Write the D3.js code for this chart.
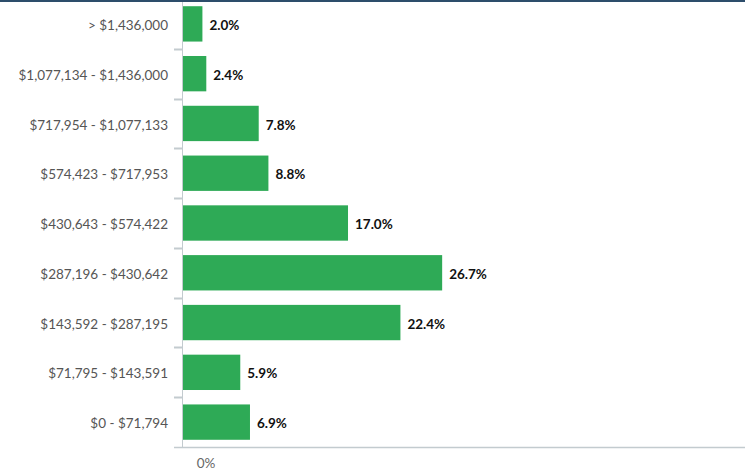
<!DOCTYPE html>
<html><head><meta charset="utf-8">
<script src="https://cdn.jsdelivr.net/npm/d3@7"></script>
<style>
html,body{margin:0;padding:0;background:#fff;}
svg{display:block;font-family:Lato,"Open Sans",sans-serif;}
</style></head>
<body>
<svg id="chart" width="745" height="474"></svg>
<script>
const categories = ["> $1,436,000","$1,077,134 - $1,436,000","$717,954 - $1,077,133","$574,423 - $717,953","$430,643 - $574,422","$287,196 - $430,642","$143,592 - $287,195","$71,795 - $143,591","$0 - $71,794"];
const values = [2.0,2.4,7.8,8.8,17.0,26.7,22.4,5.9,6.9];
const xTicks = [0];

(function(){
const svg = d3.select("#chart");
const W = 745, H = 474;
const mLeft = 183, mRight = 745, mTop = -1, mBottom = 447;

svg.append("rect").attr("x",0).attr("y",0).attr("width",W).attr("height",2).attr("fill","#2d4d6b");

const x = d3.scaleLinear().domain([0, 57.9]).range([mLeft, mRight]);
const y = d3.scaleBand().domain(categories).range([mTop, mBottom]).paddingInner(0.29).paddingOuter(0.145);

svg.append("g").selectAll("rect").data(values).join("rect")
  .attr("x", x(0))
  .attr("y", (d,i)=>y(categories[i]))
  .attr("width", d=>x(d)-x(0))
  .attr("height", y.bandwidth())
  .attr("fill", "#2eaa56");

svg.append("g").selectAll("text").data(values).join("text")
  .attr("x", d=>x(d)+7)
  .attr("y", (d,i)=>y(categories[i])+y.bandwidth()/2)
  .attr("dy","0.45em")
  .attr("font-size",13.5).attr("font-weight","bold").attr("fill","#111")
  .text(d=>d.toFixed(1)+"%");

const axisColor = "#c3cbcf";
svg.append("line").attr("x1",mLeft-0.5).attr("x2",mLeft-0.5).attr("y1",2).attr("y2",mBottom).attr("stroke",axisColor).attr("stroke-width",1);
const bounds = categories.slice(1).map((c)=> y(c) - y.step()*y.paddingInner()/2);
svg.append("g").selectAll("line").data(bounds).join("line")
  .attr("x1",mLeft-9).attr("x2",mLeft-0.5)
  .attr("y1",d=>Math.round(d)+0.5).attr("y2",d=>Math.round(d)+0.5)
  .attr("stroke",axisColor).attr("stroke-width",2);
svg.append("line").attr("x1",mLeft-9).attr("x2",W).attr("y1",mBottom+0.5).attr("y2",mBottom+0.5).attr("stroke",axisColor).attr("stroke-width",1.5);

svg.append("g").selectAll("text").data(categories).join("text")
  .attr("x", 168)
  .attr("y", d=>y(d)+y.bandwidth()/2)
  .attr("dy","0.45em")
  .attr("text-anchor","end")
  .attr("font-size",13.5).attr("fill","#555")
  .text(d=>d);

svg.append("g").selectAll("text").data(xTicks).join("text")
  .attr("x", d=>x(d)+23)
  .attr("y", 468)
  .attr("text-anchor","middle")
  .attr("font-size",13.5).attr("fill","#666")
  .text(d=>d+"%");
})();
</script>
</body></html>
